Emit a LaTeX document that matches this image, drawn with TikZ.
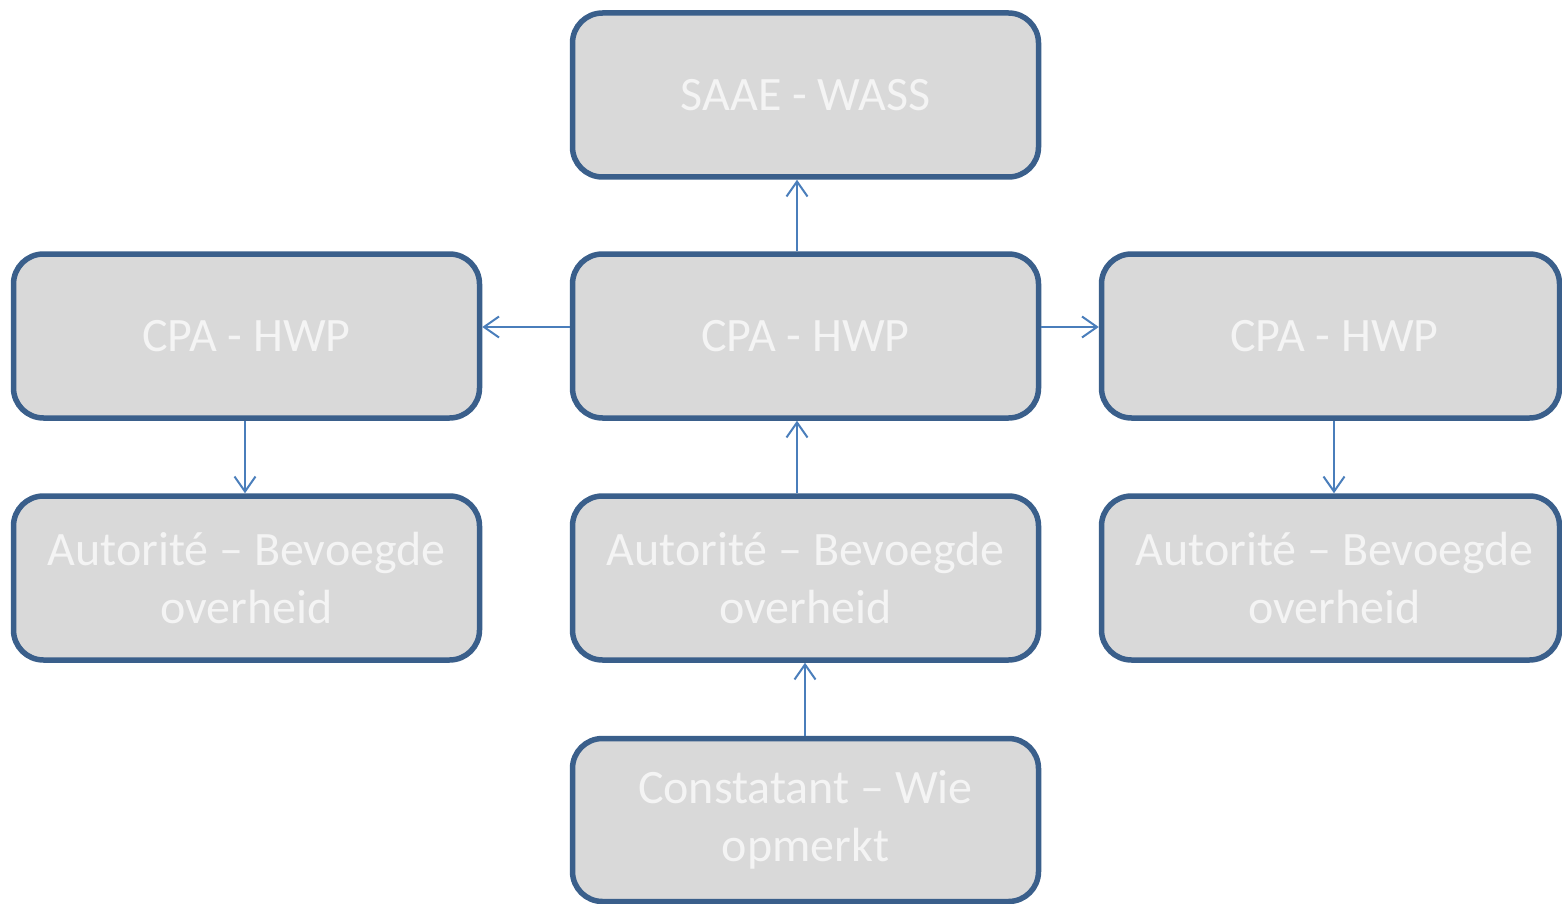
\documentclass[tikz,border=0pt]{standalone}
\usepackage{fontspec}
\setmainfont{Carlito}
\usetikzlibrary{arrows.meta}
\definecolor{boxfill}{HTML}{D9D9D9}
\definecolor{boxline}{HTML}{3A5F8B}
\definecolor{arrline}{HTML}{4A7EBB}
\definecolor{txt}{HTML}{F4F4F4}
\begin{document}
\begin{tikzpicture}[x=1pt,y=-1pt,
  box/.style={draw=boxline, fill=boxfill, line width=5.5pt, rounded corners=30pt,
    minimum width=466pt, minimum height=164pt, inner sep=0pt,
    text=txt, font=\fontsize{48}{58}\selectfont, align=center},
  arr/.style={draw=arrline, line width=2pt, -{Straight Barb[length=15pt,width=21pt,line width=2pt]}}]
\useasboundingbox (0,0) rectangle (1562,904);
\node[box] (top) at (805.5,95) {SAAE - WASS};
\node[box] (cl) at (246.5,336) {CPA - HWP};
\node[box] (cm) at (805.5,336) {CPA - HWP};
\node[box, minimum width=458pt] (cr) at (1330.5,336) {\hspace*{8pt}CPA - HWP};
\node[box] (al) at (246.5,578) {Autorité – Bevoegde\\overheid};
\node[box] (am) at (805.5,578) {Autorité – Bevoegde\\overheid};
\node[box, minimum width=458pt] (ar) at (1330.5,578) {\hspace*{8pt}Autorité – Bevoegde\\\hspace*{8pt}overheid};
\node[box, minimum height=163pt] (co) at (805.5,820) {\raisebox{-4pt}{Constatant – Wie}\\\raisebox{-4pt}{opmerkt}};
\draw[arr] (797,0 |- cm.north) -- (797,0 |- top.south);
\draw[arr] (0,327 -| cm.west) -- (0,327 -| cl.east);
\draw[arr] (0,327 -| cm.east) -- (0,327 -| cr.west);
\draw[arr] (245,0 |- cl.south) -- (245,0 |- al.north);
\draw[arr] (1334,0 |- cr.south) -- (1334,0 |- ar.north);
\draw[arr] (797,0 |- am.north) -- (797,0 |- cm.south);
\draw[arr] (805,0 |- co.north) -- (805,0 |- am.south);
\end{tikzpicture}
\end{document}
